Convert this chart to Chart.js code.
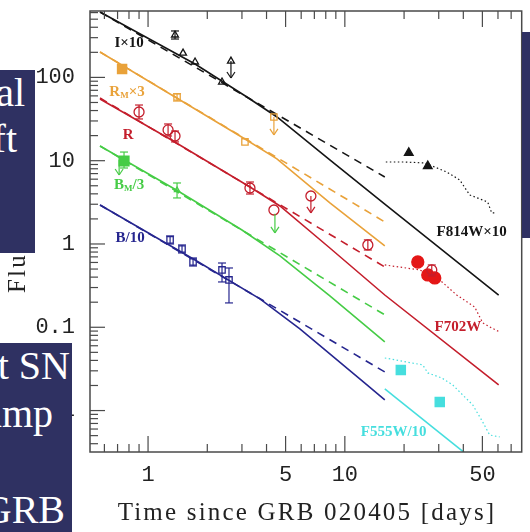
<!DOCTYPE html>
<html>
<head>
<meta charset="utf-8">
<title>GRB 020405 light curves</title>
<script src="https://cdn.jsdelivr.net/npm/chart.js@4.4.1/dist/chart.umd.min.js"></script>
<style>
  html, body { margin: 0; padding: 0; background: #fff; }
  #wrap { position: relative; width: 530px; height: 532px; overflow: hidden; }
  #chart { position: absolute; left: 0; top: 0; }
  .box { position: absolute; background: #2f3162; overflow: hidden; }
  .box span { position: absolute; color: #fff; font-family: "Liberation Serif", serif; font-size: 40px; line-height: 40px; white-space: nowrap; }
</style>
</head>
<body>
<div id="wrap">
  <canvas id="chart" width="530" height="532"></canvas>
  <div class="box" style="left:0;top:70px;width:35px;height:183px">
    <span style="right:10px;top:3px">al</span>
    <span style="right:18px;top:49px">ft</span>
  </div>
  <div class="box" style="left:0;top:343px;width:72px;height:189px">
    <span style="right:2px;top:3px">t SN</span>
    <span style="right:19px;top:51px">ump</span>
    <span style="right:7px;top:147px">GRB</span>
  </div>
  <div class="box" style="left:522px;top:32px;width:8px;height:206px"></div>
</div>
<script>
// axis ranges (days / flux)
const tMin = 0.507, tMax = 79.2;
const fMin = 0.00318, fMax = 627;
const xTickLabels = [1, 5, 10, 50];
const yTickLabels = [0.01, 0.1, 1, 10, 100];

// I x10 (black)
const iModelT = [0.570, 1.733, 3.18, 4.52, 8.39, 15.96, 60.5];
const iModelF = [610, 145, 58.2, 33.5, 10.2, 3.02, 0.244];
const iPowT = [0.570, 15.96];
const iPowF = [610, 6.37];
const iObsT = [1.371, 1.506, 1.733, 2.376, 2.638];
const iObsF = [323, 196, 153, 88.0, 157];
const iErrT = [1.371], iErrLo = [289], iErrHi = [361];
const iUlT = [2.638], iUlF = [157], iUlTip = [98.4];
const iHstT = [16.15, 20.17, 25.48, 32.95, 38.36, 43.11, 53.20, 55.75, 59.10];
const iHstF = [9.65, 9.65, 9.38, 7.32, 5.87, 3.88, 3.19, 2.36, 2.36];
const iHstObsT = [21.13, 26.39];
const iHstObsF = [12.4, 8.64];

// R_M x3 (orange)
const rmModelT = [0.570, 1.371, 3.108, 4.517, 8.395, 15.96];
const rmModelF = [202, 58.2, 18.2, 10.5, 3.11, 0.946];
const rmPowT = [0.570, 15.96];
const rmPowF = [202, 1.84];
const rmFillT = [0.738], rmFillF = [126];
const rmObsT = [1.404, 3.108, 4.361];
const rmObsF = [58.2, 16.8, 33.5];
const rmErrT = [0.738, 1.404], rmErrLo = [113, 52.0], rmErrHi = [141, 63.8];
const rmUlT = [4.361], rmUlF = [33.5], rmUlTip = [20.4];

// R (red)
const rModelT = [0.570, 1.264, 3.295, 4.68, 8.39, 15.96, 60.5];
const rModelF = [55.1, 18.7, 4.83, 2.86, 0.895, 0.244, 0.0203];
const rPowT = [0.570, 15.96];
const rPowF = [56.6, 0.530];
const rObsT = [0.900, 1.264, 1.371, 3.295, 4.361, 6.722, 13.09, 27.65];
const rObsF = [38.4, 23.4, 19.8, 4.70, 2.56, 3.77, 0.973, 0.488];
const rErrT = [0.900, 1.264, 1.371, 3.295, 13.09, 27.65];
const rErrLo = [31.7, 19.8, 16.8, 3.98, 0.847, 0.413];
const rErrHi = [46.6, 27.6, 22.7, 5.55, 1.12, 0.560];
const rUlT = [6.722], rUlF = [3.77], rUlTip = [2.36];
const rHstT = [15.96, 24.04, 30.36, 37.03, 45.70, 50.18, 55.75, 61.21];
const rHstF = [0.560, 0.488, 0.370, 0.244, 0.175, 0.113, 0.0982, 0.0878];
const rHstObsT = [23.48, 26.39, 28.64];
const rHstObsF = [0.608, 0.425, 0.391];

// B_M /3 (green)
const bmModelT = [0.570, 1.420, 3.001, 4.68, 8.39, 15.96];
const bmModelF = [15.0, 4.33, 1.47, 0.718, 0.238, 0.0666];
const bmPowT = [0.570, 15.96];
const bmPowF = [15.0, 0.141];
const bmFillT = [0.755], bmFillF = [9.92];
const bmObsT = [1.404], bmObsF = [4.45];
const bmErrT = [0.755, 1.404], bmErrLo = [8.17, 3.57], bmErrHi = [12.7, 5.40];
const bmUlT = [0.713, 4.413], bmUlF = [10.2, 2.30], bmUlTip = [6.73, 1.36];

// B /10 (blue)
const bModelT = [0.570, 1.733, 3.703, 5.909, 12.64, 15.96];
const bModelF = [2.94, 0.643, 0.219, 0.0954, 0.0214, 0.0134];
const bPowT = [0.570, 15.96];
const bPowF = [2.94, 0.0291];
const bObsT = [1.294, 1.488, 1.693, 2.376, 2.578];
const bObsF = [1.12, 0.871, 0.608, 0.488, 0.370];
const bErrLo = [1.0, 0.780, 0.544, 0.350, 0.196];
const bErrHi = [1.25, 0.973, 0.679, 0.591, 0.515];

// F555W /10 (cyan)
const cModelT = [15.96, 61.2];
const cModelF = [0.0182, 0.00143];
const cHstT = [15.96, 24.89, 26.39, 31.08, 35.34, 38.36, 44.64, 50.18, 54.45, 61.21];
const cHstF = [0.0428, 0.0353, 0.0283, 0.0246, 0.0203, 0.0167, 0.0117, 0.00730, 0.00509, 0.00482];
const cHstObsT = [19.25, 30.36];
const cHstObsF = [0.0307, 0.0127];

const BLACK = '#151515', ORANGE = '#e9a23a', RED = '#c41e2c', RED_F = '#e41616';
const GREEN = '#46cc46', BLUE = '#26268f', CYAN = '#46dede';

const pts = (ts, fs) => ts.map((t, i) => ({ x: t, y: fs[i] }));

function lineDs(ts, fs, color, kind) {
  const dash = kind === 'dash' ? [8, 6] : kind === 'dot' ? [1.5, 2.5] : [];
  return {
    data: pts(ts, fs), showLine: true, borderColor: color,
    borderWidth: kind === 'dot' ? 1.2 : 1.6, borderDash: dash,
    pointRadius: 0, tension: 0, order: 2
  };
}
function markDs(ts, fs, color, style, r, filled) {
  return {
    data: pts(ts, fs), showLine: false, pointStyle: style, pointRadius: r,
    pointBorderColor: color, pointBackgroundColor: filled ? color : 'rgba(0,0,0,0)',
    pointBorderWidth: 1.3, order: 0
  };
}

const errSets = [
  { t: iErrT, lo: iErrLo, hi: iErrHi, c: BLACK },
  { t: rmErrT, lo: rmErrLo, hi: rmErrHi, c: ORANGE },
  { t: rErrT, lo: rErrLo, hi: rErrHi, c: RED },
  { t: bmErrT, lo: bmErrLo, hi: bmErrHi, c: GREEN },
  { t: bObsT, lo: bErrLo, hi: bErrHi, c: BLUE }
];
const ulSets = [
  { t: iUlT, f: iUlF, tip: iUlTip, c: BLACK },
  { t: rmUlT, f: rmUlF, tip: rmUlTip, c: ORANGE },
  { t: rUlT, f: rUlF, tip: rUlTip, c: RED },
  { t: bmUlT, f: bmUlF, tip: bmUlTip, c: GREEN }
];
const notes = [
  { text: 'I×10', t: 0.801, f: 259, c: BLACK },
  { text: 'R_M×3', t: 0.782, f: 66.8, c: ORANGE },
  { text: 'R', t: 0.792, f: 20.4, c: RED },
  { text: 'B_M/3', t: 0.801, f: 5.11, c: GREEN },
  { text: 'B/10', t: 0.810, f: 1.18, c: BLUE },
  { text: 'F814W×10', t: 44.1, f: 1.39, c: BLACK },
  { text: 'F702W', t: 37.5, f: 0.101, c: RED },
  { text: 'F555W/10', t: 17.7, f: 0.00553, c: CYAN }
];

function drawNote(ctx, n, px, py) {
  // "_X" marks a one-letter subscript
  const parts = [];
  for (let i = 0; i < n.text.length; i++) {
    if (n.text[i] === '_') { parts.push({ s: n.text[i + 1], sub: true }); i++; }
    else parts.push({ s: n.text[i], sub: false });
  }
  const big = 'bold 15px "Liberation Serif", serif', small = 'bold 9px "Liberation Serif", serif';
  let w = 0;
  parts.forEach(p => { ctx.font = p.sub ? small : big; w += ctx.measureText(p.s).width; });
  let cx = px - w / 2;
  ctx.fillStyle = n.c;
  ctx.textAlign = 'left';
  ctx.textBaseline = 'middle';
  parts.forEach(p => {
    ctx.font = p.sub ? small : big;
    ctx.fillText(p.s, cx, p.sub ? py + 4 : py);
    cx += ctx.measureText(p.s).width;
  });
}

const framePlugin = {
  id: 'frame',
  afterDatasetsDraw(chart) {
    const { ctx, chartArea: a, scales: { x, y } } = chart;
    const seg = (x1, y1, x2, y2) => { ctx.beginPath(); ctx.moveTo(x1, y1); ctx.lineTo(x2, y2); ctx.stroke(); };
    ctx.save();

    // error bars
    ctx.lineWidth = 1.2;
    errSets.forEach(s => {
      ctx.strokeStyle = s.c;
      s.t.forEach((t, i) => {
        const px = x.getPixelForValue(t);
        const p1 = y.getPixelForValue(s.lo[i]), p2 = y.getPixelForValue(s.hi[i]);
        seg(px, p1, px, p2);
        seg(px - 4, p1, px + 4, p1);
        seg(px - 4, p2, px + 4, p2);
      });
    });

    // upper limits
    ulSets.forEach(s => {
      ctx.strokeStyle = s.c;
      s.t.forEach((t, i) => {
        const px = x.getPixelForValue(t);
        const p1 = y.getPixelForValue(s.f[i]), p2 = y.getPixelForValue(s.tip[i]);
        seg(px, p1, px, p2);
        seg(px - 4, p2 - 6, px, p2);
        seg(px + 4, p2 - 6, px, p2);
      });
    });

    // frame with inward ticks
    ctx.strokeStyle = '#4a4a4a';
    ctx.lineWidth = 1.5;
    ctx.strokeRect(a.left, a.top, a.right - a.left, a.bottom - a.top);
    ctx.lineWidth = 1.2;
    for (let d = -1; d <= 2; d++) {
      for (let m = 1; m <= 9; m++) {
        const v = m * Math.pow(10, d);
        if (v < tMin || v > tMax) continue;
        const px = x.getPixelForValue(v);
        const len = (m === 1 || m === 5) ? 16 : 8;
        seg(px, a.bottom, px, a.bottom - len);
        seg(px, a.top, px, a.top + len);
      }
    }
    for (let d = -3; d <= 2; d++) {
      for (let m = 1; m <= 9; m++) {
        const v = m * Math.pow(10, d);
        if (v < fMin || v > fMax) continue;
        const py = y.getPixelForValue(v);
        seg(a.left, py, a.left + (m === 1 ? 15 : 8), py);
      }
    }

    // tick labels
    ctx.fillStyle = '#222';
    ctx.font = '22px "Liberation Mono", monospace';
    ctx.textAlign = 'right';
    ctx.textBaseline = 'middle';
    yTickLabels.forEach(v => ctx.fillText(String(v), a.left - 15, y.getPixelForValue(v)));
    ctx.textAlign = 'center';
    xTickLabels.forEach(v => ctx.fillText(String(v), x.getPixelForValue(v), 475));

    // axis titles
    ctx.font = '25px "Liberation Serif", serif';
    ctx.letterSpacing = '2.2px';
    ctx.fillText('Time since GRB 020405 [days]', 307, 513);
    ctx.save();
    ctx.translate(18, 293);
    ctx.rotate(-Math.PI / 2);
    ctx.textAlign = 'left';
    ctx.fillText('Flux', 0, 0);
    ctx.restore();
    ctx.letterSpacing = '0px';

    // curve labels
    notes.forEach(n => drawNote(ctx, n, x.getPixelForValue(n.t), y.getPixelForValue(n.f)));
    ctx.restore();
  }
};

new Chart(document.getElementById('chart'), {
  type: 'scatter',
  data: {
    datasets: [
      markDs(iObsT, iObsF, BLACK, 'triangle', 4, false),
      markDs(iHstObsT, iHstObsF, BLACK, 'triangle', 5, true),
      markDs(rmFillT, rmFillF, ORANGE, 'rect', 6.5, true),
      markDs(rmObsT, rmObsF, ORANGE, 'rect', 4.5, false),
      markDs(rObsT, rObsF, RED, 'circle', 5, false),
      markDs(rHstObsT, rHstObsF, RED_F, 'circle', 6, true),
      markDs(bmFillT, bmFillF, GREEN, 'rect', 7, true),
      markDs(bmObsT, bmObsF, GREEN, 'triangle', 3, false),
      markDs(bObsT, bObsF, BLUE, 'rect', 4.5, false),
      markDs(cHstObsT, cHstObsF, CYAN, 'rect', 6.5, true),
      lineDs(iModelT, iModelF, BLACK, 'solid'),
      lineDs(iPowT, iPowF, BLACK, 'dash'),
      lineDs(iHstT, iHstF, BLACK, 'dot'),
      lineDs(rmModelT, rmModelF, ORANGE, 'solid'),
      lineDs(rmPowT, rmPowF, ORANGE, 'dash'),
      lineDs(rModelT, rModelF, RED, 'solid'),
      lineDs(rPowT, rPowF, RED, 'dash'),
      lineDs(rHstT, rHstF, RED, 'dot'),
      lineDs(bmModelT, bmModelF, GREEN, 'solid'),
      lineDs(bmPowT, bmPowF, GREEN, 'dash'),
      lineDs(bModelT, bModelF, BLUE, 'solid'),
      lineDs(bPowT, bPowF, BLUE, 'dash'),
      lineDs(cModelT, cModelF, CYAN, 'solid'),
      lineDs(cHstT, cHstF, CYAN, 'dot')
    ]
  },
  options: {
    responsive: false,
    devicePixelRatio: 1,
    animation: false,
    events: [],
    layout: { padding: { left: 90, top: 11, right: 8, bottom: 80 } },
    plugins: { legend: { display: false }, tooltip: { enabled: false } },
    scales: {
      x: { type: 'logarithmic', min: tMin, max: tMax, display: false },
      y: { type: 'logarithmic', min: fMin, max: fMax, display: false }
    }
  },
  plugins: [framePlugin]
});
</script>
</body>
</html>
